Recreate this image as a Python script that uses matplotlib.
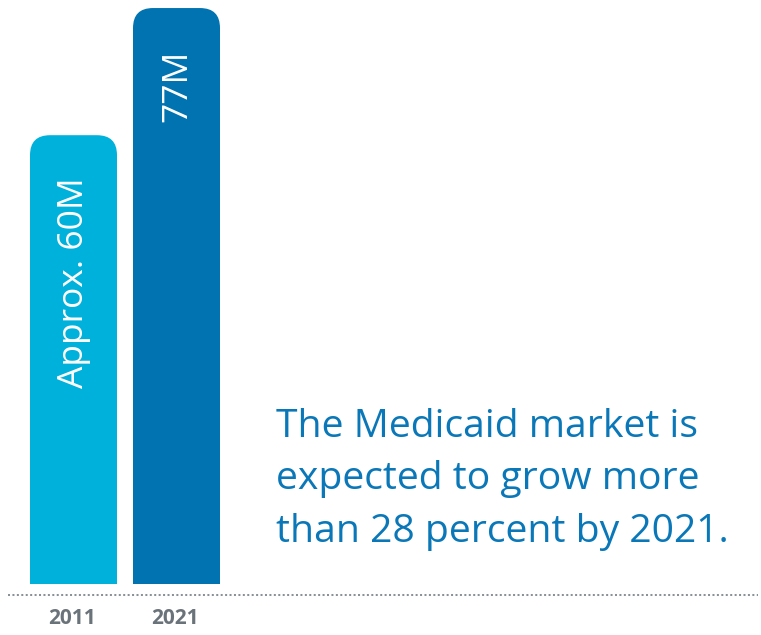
import matplotlib
matplotlib.use("Agg")
import matplotlib.pyplot as plt
from matplotlib.patches import FancyBboxPatch, Rectangle

plt.rcParams["font.family"] = ["Open Sans", "DejaVu Sans"]

years = ["2011", "2021"]
values = [60, 77]
bar_labels = ["Approx. 60M", "77M"]
bar_colors = ["#00b1dc", "#0073b0"]
note_lines = ["The Medicaid market is",
              "expected to grow more",
              "than 28 percent by 2021."]

W, H = 761, 635
fig = plt.figure(figsize=(W / 100, H / 100), dpi=100)
ax = fig.add_axes([0, 0, 1, 1])
ax.axis("off")

# pixel scales
px_x = 103.0      # px per bar slot
px_y = 7.48       # px per million
base_px = 51      # bar bottom, px from figure bottom
ax.set_xlim(-73.5 / px_x, (W - 73.5) / px_x)
ax.set_ylim(-base_px / px_y, (H - base_px) / px_y)

width = 87 / px_x
r = 20 / px_x
asp = (20 / px_y) / r

for i, (v, c, lab) in enumerate(zip(values, bar_colors, bar_labels)):
    x0 = i - width / 2
    ax.add_patch(FancyBboxPatch((x0, 0), width, v,
                                boxstyle=f"round,pad=0,rounding_size={r}",
                                mutation_aspect=asp, fc=c, ec="none"))
    ax.add_patch(Rectangle((x0, 0), width, v / 2, fc=c, ec="none"))
    ax.text(i + 10 / px_x, v - 42 / px_y, lab, rotation=90,
            rotation_mode="anchor", ha="right", va="baseline",
            color="white", fontsize=25.5)
    ax.text(i - 1.5 / px_x, (H - 624 - base_px) / px_y, years[i],
            ha="center", va="baseline", color="#6b737a",
            fontsize=15, fontweight="bold")

# dotted base line
ax.axhline((H - 595 - base_px) / px_y, xmin=8 / W, xmax=758 / W,
           color="#8a9197", lw=1.45, ls=(0, (1, 1.2)))

for k, line in enumerate(note_lines):
    y = 437 + k * 52.3
    fig.text(276 / W, 1 - y / H, line, ha="left", va="baseline",
             color="#0a78b8", fontsize=28.2)

fig.savefig("out.png", dpi=100)
